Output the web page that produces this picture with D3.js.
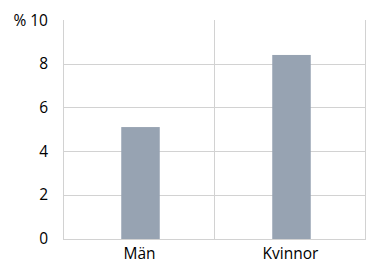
<!DOCTYPE html>
<html>
<head>
<meta charset="utf-8">
<script src="https://cdn.jsdelivr.net/npm/d3@7"></script>
<style>
  body { margin: 0; background: #fff; }
  text { font-family: "Open Sans", "Noto Sans", sans-serif; font-size: 15.5px; fill: #000; }
</style>
</head>
<body>
<div id="chart"></div>
<script>
var categories = ['Män', 'Kvinnor'];
var values = [5.1, 8.4];
var yTicks = [0, 2, 4, 6, 8, 10];

var w = 367;
var h = 263;
var margin = { top: 20, right: 1, bottom: 24.5, left: 64 };

var svg = d3.select('#chart').append('svg').attr('width', w).attr('height', h);

var x = d3.scaleBand().domain(categories).range([ margin.left, w - margin.right ]);
var y = d3.scaleLinear().domain([ 0, 10 ]).range([ h - margin.bottom, margin.top ]);

// horizontal grid (not at the top)
svg
	.selectAll('line.grid')
	.data(yTicks.filter(function(d) { return d < 10; }))
	.enter()
	.append('line')
	.attr('class', 'grid')
	.attr('x1', margin.left)
	.attr('x2', w - margin.right)
	.attr('y1', function(d) { return Math.round(y(d)) + 0.5; })
	.attr('y2', function(d) { return Math.round(y(d)) + 0.5; })
	.attr('stroke', '#d2d2d2')
	.attr('stroke-width', 1);

// vertical lines: left axis, category separators, right edge
var vx = [ margin.left ].concat(categories.map(function(c) { return x(c) + x.bandwidth(); }));
svg
	.selectAll('line.vgrid')
	.data(vx)
	.enter()
	.append('line')
	.attr('class', 'vgrid')
	.attr('x1', function(d) { return Math.round(d) - 0.5; })
	.attr('x2', function(d) { return Math.round(d) - 0.5; })
	.attr('y1', y(10))
	.attr('y2', Math.round(y(0)) + 1)
	.attr('stroke', '#d2d2d2')
	.attr('stroke-width', 1);

// bars
var barW = 38.5;
svg
	.selectAll('rect')
	.data(values)
	.enter()
	.append('rect')
	.attr('x', function(d, i) { return x(categories[i]) + x.bandwidth() / 2 - barW / 2 + 1; })
	.attr('y', function(d) { return y(d); })
	.attr('width', barW)
	.attr('height', function(d) { return Math.round(y(0)) - y(d); })
	.attr('fill', '#97a3b2');

// y labels
svg
	.selectAll('text.ytick')
	.data(yTicks)
	.enter()
	.append('text')
	.attr('class', 'ytick')
	.attr('x', 48)
	.attr('y', function(d) { return y(d); })
	.attr('dy', '0.36em')
	.attr('text-anchor', 'end')
	.text(function(d) { return d === 10 ? '% 10' : d; });

// x labels
svg
	.selectAll('text.xtick')
	.data(categories)
	.enter()
	.append('text')
	.attr('class', 'xtick')
	.attr('x', function(d) { return x(d) + x.bandwidth() / 2; })
	.attr('y', 259)
	.attr('text-anchor', 'middle')
	.text(function(d) { return d; });
</script>
</body>
</html>
